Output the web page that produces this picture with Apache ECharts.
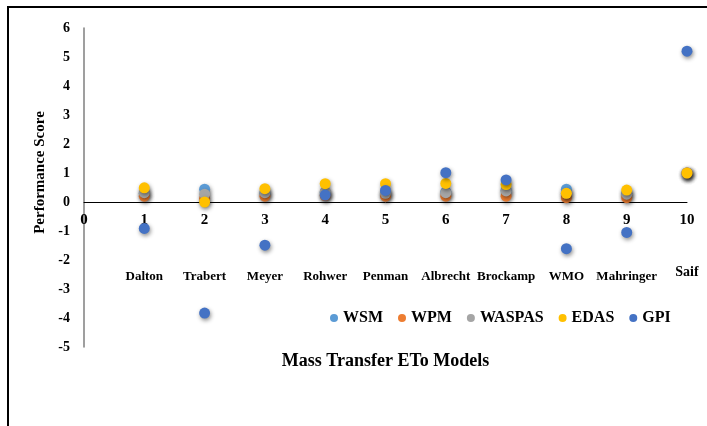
<!DOCTYPE html>
<html>
<head>
<meta charset="utf-8">
<script src="https://cdn.jsdelivr.net/npm/echarts@6/dist/echarts.min.js"></script>
<style>
  html, body { margin: 0; padding: 0; background: #fff; }
  #main { width: 707px; height: 426px; }
</style>
</head>
<body>
<div id="main"></div>
<script>
// model index on x axis and its name
var models = [1, 2, 3, 4, 5, 6, 7, 8, 9, 10];
var modelNames = ['Dalton', 'Trabert', 'Meyer', 'Rohwer', 'Penman', 'Albrecht', 'Brockamp', 'WMO', 'Mahringer', 'Saif'];

// scores
var wsm    = [0.30, 0.44, 0.30, 0.33, 0.30, 0.35, 0.40, 0.44, 0.30, 1.00];
var wpm    = [0.20, 0.12, 0.20, 0.22, 0.20, 0.20, 0.20, 0.15, 0.15, 1.00];
var waspas = [0.32, 0.27, 0.32, 0.36, 0.30, 0.32, 0.38, 0.30, 0.27, 1.00];
var edas   = [0.49, 0.00, 0.46, 0.63, 0.63, 0.64, 0.60, 0.30, 0.41, 1.00];
var gpi    = [-0.91, -3.83, -1.49, 0.24, 0.40, 1.01, 0.76, -1.61, -1.05, 5.20];

var yTicks = [-5, -4, -3, -2, -1, 0, 1, 2, 3, 4, 5, 6];

var serif = '"Liberation Serif", "DejaVu Serif", serif';

function pts(vals) {
  return models.map(function (m, i) { return [m, vals[i]]; });
}

function mkSeries(name, vals, color) {
  return {
    name: name,
    type: 'scatter',
    symbolSize: 11,
    data: pts(vals),
    itemStyle: {
      color: color,
      opacity: 1,
      shadowBlur: 4,
      shadowOffsetX: 1,
      shadowOffsetY: 2,
      shadowColor: 'rgba(0,0,0,0.45)'
    }
  };
}

var chart = echarts.init(document.getElementById('main'));

var option = {
  backgroundColor: '#fff',
  animation: false,
  grid: { left: 84, right: 20, top: 28, bottom: 79, containLabel: false, outerBoundsMode: 'none' },
  legend: {
    left: 325,
    top: 305,
    icon: 'circle',
    itemWidth: 8,
    itemHeight: 8,
    itemGap: 15,
    textStyle: { fontFamily: serif, fontWeight: 'bold', fontSize: 16, color: '#000' }
  },
  xAxis: {
    type: 'value',
    min: 0,
    max: 10,
    interval: 1,
    splitLine: { show: false },
    axisTick: { show: false },
    axisLine: { onZero: true, lineStyle: { color: '#000', width: 1 } },
    name: 'Mass Transfer ETo Models',
    nameLocation: 'middle',
    nameGap: 5,
    nameTextStyle: { fontFamily: serif, fontWeight: 'bold', fontSize: 18, color: '#000' },
    axisLabel: {
      margin: -136,
      formatter: function (v) {
        if (v === 0) return '{n|0}';
        var nm = modelNames[models.indexOf(v)];
        return '{n|' + v + '}\n' + (v === 10 ? '{s|' + nm + '}' : '{m|' + nm + '}');
      },
      rich: {
        n: { fontFamily: serif, fontWeight: 'bold', fontSize: 15, color: '#000', lineHeight: 18 },
        m: { fontFamily: serif, fontWeight: 'bold', fontSize: 13, color: '#000', lineHeight: 96 },
        s: { fontFamily: serif, fontWeight: 'bold', fontSize: 14, color: '#000', lineHeight: 86 }
      }
    }
  },
  yAxis: {
    type: 'value',
    min: yTicks[0],
    max: yTicks[yTicks.length - 1],
    interval: 1,
    splitLine: { show: false },
    axisTick: { show: false },
    axisLine: { show: true, lineStyle: { color: '#7f7f7f', width: 1.5 } },
    axisLabel: {
      margin: 14,
      fontFamily: serif,
      fontWeight: 'bold',
      fontSize: 14,
      color: '#000'
    },
    name: 'Performance Score',
    nameLocation: 'middle',
    nameGap: 34,
    nameTextStyle: {
      fontFamily: serif, fontWeight: 'bold', fontSize: 15, color: '#000',
      padding: [0, 0, 0, 30]
    }
  },
  graphic: [{
    type: 'rect',
    shape: { x: 8, y: 7, width: 740, height: 460 },
    style: { fill: 'none', stroke: '#000', lineWidth: 2 },
    silent: true
  }],
  series: [
    mkSeries('WSM', wsm, '#5B9BD5'),
    mkSeries('WPM', wpm, '#ED7D31'),
    mkSeries('WASPAS', waspas, '#A5A5A5'),
    mkSeries('EDAS', edas, '#FFC000'),
    mkSeries('GPI', gpi, '#4472C4')
  ]
};

chart.setOption(option);
</script>
</body>
</html>
